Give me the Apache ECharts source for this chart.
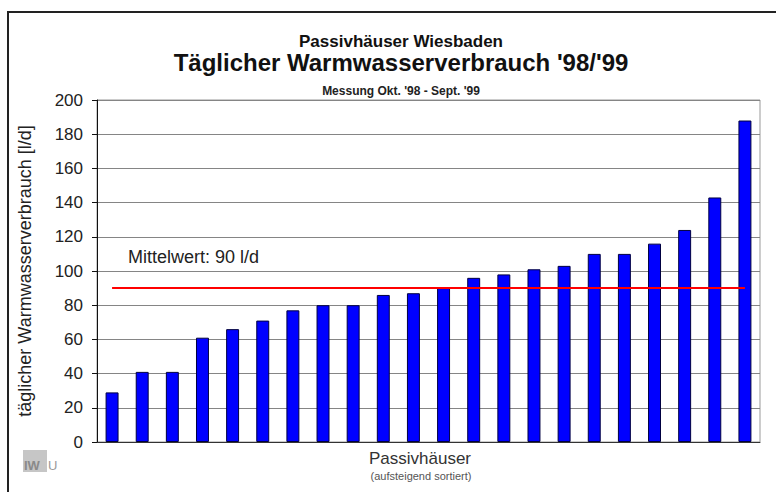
<!DOCTYPE html>
<html><head><meta charset="utf-8">
<script src="https://cdn.jsdelivr.net/npm/echarts@6/dist/echarts.min.js"></script>
<style>html,body{margin:0;padding:0;background:#fff}#c{width:776px;height:492px}</style>
</head><body><div id="c"></div>
<script>
const categories = ['1','2','3','4','5','6','7','8','9','10','11','12','13','14','15','16','17','18','19','20','21','22'];
const consumption = [29, 41, 41, 61, 66, 71, 77, 80, 80, 86, 87, 90, 96, 98, 101, 103, 110, 110, 116, 124, 143, 188];
const meanValue = 90;
const yTicks = [0, 20, 40, 60, 80, 100, 120, 140, 160, 180, 200];

const font = 'Liberation Sans, Arial, sans-serif';
function txt(x, y, text, size, weight, fill) {
  return {type: 'text', x: x, y: y, style: {text: text, font: weight + ' ' + size + 'px ' + font,
    fill: fill, textAlign: 'center', textVerticalAlign: 'middle'}};
}
const chart = echarts.init(document.getElementById('c'), null, {renderer: 'svg'});
chart.setOption({
  backgroundColor: '#fff',
  animation: false,
  grid: {left: 97, right: 16, top: 100, bottom: 50, show: true, borderColor: '#999', borderWidth: 1},
  xAxis: {
    type: 'category', data: categories,
    axisLine: {lineStyle: {color: '#333'}},
    axisTick: {show: false}, axisLabel: {show: false}
  },
  yAxis: {
    type: 'value', min: 0, max: 200, interval: 20,
    name: 'täglicher Warmwasserverbrauch [l/d]', nameLocation: 'middle', nameGap: 63,
    nameTextStyle: {fontFamily: font, fontSize: 18, color: '#222'},
    axisLine: {show: true, lineStyle: {color: '#111'}},
    axisTick: {show: true, length: 5, lineStyle: {color: '#111'}},
    axisLabel: {fontFamily: font, fontSize: 17, color: '#222', margin: 14,
      formatter: v => yTicks.includes(v) ? String(v) : ''},
    splitLine: {lineStyle: {color: '#858585', width: 1}}
  },
  series: [{
    type: 'bar', data: consumption, barWidth: '43%',
    itemStyle: {color: '#0000ff', borderColor: '#000040', borderWidth: 1},
    markLine: {
      symbol: 'none', silent: true,
      lineStyle: {color: '#ff0000', width: 2, type: 'solid'},
      label: {show: false},
      data: [[{coord: [0, meanValue]}, {coord: [categories.length - 1, meanValue]}]]
    }
  }],
  graphic: [
    {type: 'rect', shape: {x: 8, y: 12, width: 800, height: 520}, style: {fill: 'none', stroke: '#222', lineWidth: 2}, z: -1},
    txt(401, 41, 'Passivhäuser Wiesbaden', 17, 'bold', '#111'),
    txt(401, 62.5, "Täglicher Warmwasserverbrauch '98/'99", 24, 'bold', '#111'),
    txt(401, 90.5, "Messung Okt. '98 - Sept. '99", 12, 'bold', '#222'),
    txt(420, 458.5, 'Passivhäuser', 17, 'normal', '#333'),
    txt(421, 475.5, '(aufsteigend sortiert)', 11, 'normal', '#555'),
    {type: 'text', x: 128, y: 257, style: {text: 'Mittelwert: 90 l/d', font: '18px ' + font, fill: '#222', textVerticalAlign: 'middle'}},
    {type: 'rect', shape: {x: 23, y: 450, width: 24, height: 22}, style: {fill: '#c6c6c6'}},
    {type: 'text', x: 24, y: 465, style: {text: 'IW', font: 'bold 13px ' + font, fill: '#8a8a8a', textVerticalAlign: 'middle'}},
    {type: 'text', x: 48, y: 465, style: {text: 'U', font: '13px ' + font, fill: '#9a9a9a', textVerticalAlign: 'middle'}}
  ]
});
</script></body></html>
